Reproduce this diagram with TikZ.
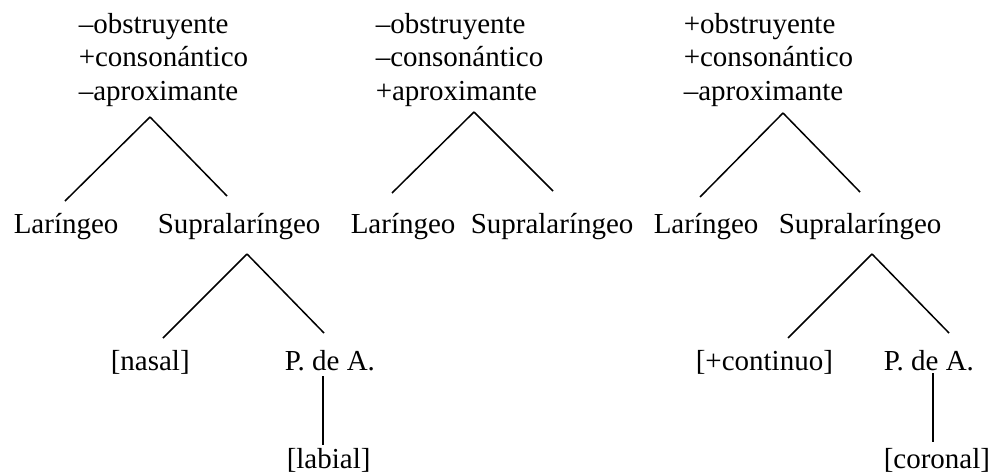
\documentclass[tikz,border=0pt]{standalone}
\usepackage{fontspec}
\setmainfont{Liberation Serif}

\begin{document}
\begin{tikzpicture}[x=1pt, y=-1pt, line width=1.5pt,
	every node/.style={inner sep=0pt, anchor=base west, font=\fontsize{29}{33.5}\selectfont},
	feats/.style={align=left}]
	\useasboundingbox (0,0) rectangle (992,474);
	% nasal
	\node[feats] (feat1) at (78,100) {–obstruyente\\+consonántico\\–aproximante};
	\node (lar1) at (13,233) {Laríngeo};
	\node (supra1) at (157,233) {Supralaríngeo};
	\coordinate (top1) at (150,117);
	\coordinate (left1) at (65,201);
	\coordinate (right1) at (227,196);
	\draw (top1) -- (left1);
	\draw (top1) -- (right1);
	\node (nasal) at (110,370) {[nasal]};
	\node (pda1) at (284,370) {P. de A.};
	\node (labial) at (286,468) {[labial]};
	\coordinate (top4) at (247,254);
	\coordinate (left4) at (163,338);
	\coordinate (right4) at (324,333);
	\draw (top4) -- (left4);
	\draw (top4) -- (right4);
	\coordinate (pdabot1) at (323,376);
	\coordinate (labtop) at (323,445);
	\draw (pdabot1) -- (labtop);
	% aproximante
	\node[feats] (feat2) at (375,100) {–obstruyente\\–consonántico\\+aproximante};
	\node (lar2) at (350,233) {Laríngeo};
	\node (supra2) at (470,233) {Supralaríngeo};
	\coordinate (top2) at (474,112);
	\coordinate (left2) at (392,193);
	\coordinate (right2) at (553,191);
	\draw (top2) -- (left2);
	\draw (top2) -- (right2);
	% fricativa
	\node[feats] (feat3) at (683,100) {+obstruyente\\+consonántico\\–aproximante};
	\node (lar3) at (653,233) {Laríngeo};
	\node (supra3) at (778,233) {Supralaríngeo};
	\coordinate (top3) at (783,113);
	\coordinate (left3) at (700,197);
	\coordinate (right3) at (860,192);
	\draw (top3) -- (left3);
	\draw (top3) -- (right3);
	\node (cont) at (695,370) {[+continuo]};
	\node (pda3) at (883,370) {P. de A.};
	\node (coronal) at (883,468) {[coronal]};
	\coordinate (top5) at (872,254);
	\coordinate (left5) at (788,338);
	\coordinate (right5) at (949,333);
	\draw (top5) -- (left5);
	\draw (top5) -- (right5);
	\coordinate (pdabot3) at (933,373);
	\coordinate (cortop) at (933,442);
	\draw (pdabot3) -- (cortop);
\end{tikzpicture}
\end{document}
